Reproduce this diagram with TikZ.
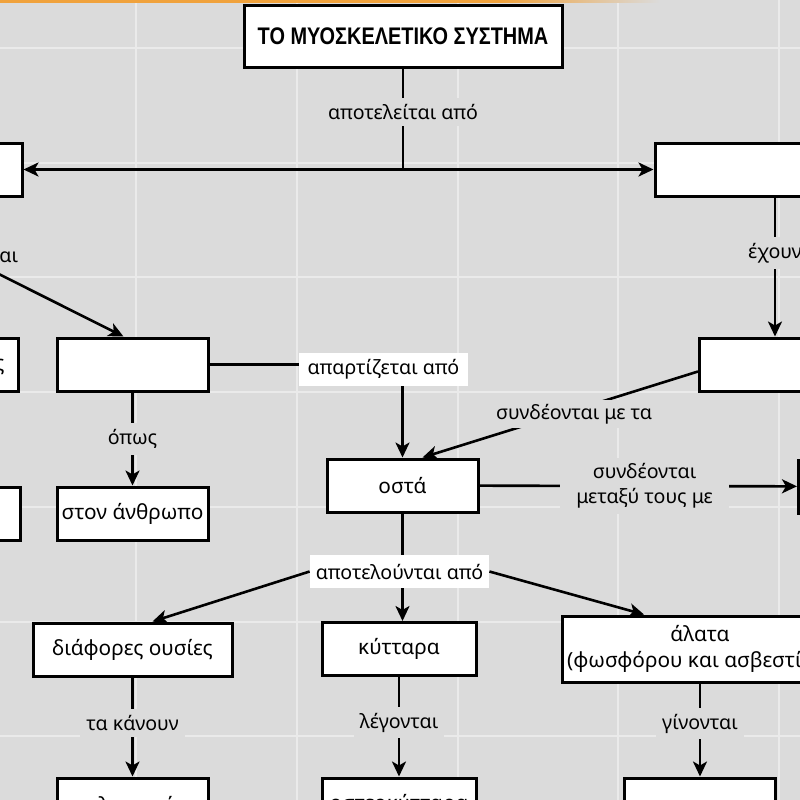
\documentclass[tikz,border=0pt]{standalone}
\usepackage{fontspec}
\usepackage{graphicx}
\setmainfont{Noto Sans}
\newfontfamily\titlefont{Liberation Sans}
\usetikzlibrary{arrows.meta,positioning,calc}

\definecolor{bggray}{HTML}{DBDBDB}
\definecolor{gridgray}{HTML}{EAEAEA}
\definecolor{topline}{HTML}{F0A23C}

\begin{document}
\begin{tikzpicture}[x=0.5pt,y=-0.5pt,
  >={Stealth[length=7.5pt,width=7pt,inset=2pt]},
  box/.style={draw,line width=1.5pt,fill=white,minimum width=75.5pt,minimum height=26.5pt,
    inner sep=0pt,align=center,font=\fontsize{10.4}{13}\selectfont},
  lbl/.style={fill=bggray,inner sep=3pt,align=center,font=\fontsize{9.8}{12.5}\selectfont},
  wlbl/.style={fill=white,inner sep=0pt,align=center,font=\fontsize{9.8}{12.5}\selectfont},
  conn/.style={line width=1.3pt}]

  \clip (0,0) rectangle (800,800);
  \fill[bggray] (0,0) rectangle (800,800);
  \foreach \gx in {136,297,458,618,779}
    \draw[gridgray,line width=1pt] (\gx,0) -- (\gx,800);
  \foreach \gy in {48,163,277,392,507,622,736}
    \draw[gridgray,line width=1pt] (0,\gy) -- (800,\gy);
  \fill[topline] (0,0) rectangle (500,2.5);
  \shade[left color=topline,right color=bggray] (500,0) rectangle (660,2.5);

  % top level
  \node[box,minimum width=159pt,minimum height=31pt,font=\fontsize{12}{14}\titlefont\bfseries]
    (title) at (403,36) {\scalebox{0.83}[1]{ΤΟ ΜΥΟΣΚΕΛΕΤΙΚΟ ΣΥΣΤΗΜΑ}};
  \node[box,minimum width=176pt] (skel) at (-154,169.5) {};
  \node[box,minimum width=120pt] (muscle) at (775,169.5) {};
  \coordinate (split) at (title.south |- skel);
  \draw[conn] (title) -- (split);
  \draw[conn,->] (split) -- (skel);
  \draw[conn,->] (split) -- (muscle);
  \node[lbl] (lblMain) at (403,112) {αποτελείται από};

  % left branch
  \node[box,anchor=east] (exo) at (20,364.5) {εξωσκελετός};
  \node[box] (insect) at (-55.5,513.5) {};
  \node[box] (endo) at (132.5,364.5) {};
  \draw[conn,->] (skel.south) -- node[lbl,pos=0.43] {διακρίνεται} ([xshift=-4.5pt]endo.north);
  \node[box] (human) at (132.5,513.5) {στον άνθρωπο};
  \draw[conn,->] (endo) -- node[lbl] {όπως} (human);

  % bones
  \node[box] (osta) at (402.5,485.5) {οστά};
  \node[wlbl,minimum width=84.5pt,minimum height=16.5pt] (lblBuilt) at (383.5,369.5) {απαρτίζεται από};
  \draw[conn] (endo) -- (endo -| lblBuilt.west);
  \draw[conn,->] (lblBuilt.south -| osta) -- (osta);

  % right branch
  \node[box] (tendon) at (775,364.5) {};
  \draw[conn,->] (muscle) -- node[lbl,pos=0.4] {έχουν} (tendon);
  \draw[conn,->] ([yshift=-3.5pt]tendon.west) -- node[lbl,pos=0.45,inner sep=2pt,yshift=-2pt] {συνδέονται με τα} ([xshift=10pt]osta.north);
  \node[box] (joint) at (874,486.5) {};
  \draw[conn,->] (osta) -- node[lbl,pos=0.52,inner xsep=8pt] {συνδέονται\\μεταξύ τους με} (joint);

  % what bones are made of
  \node[wlbl,minimum width=89.5pt,minimum height=16.5pt] (lblMade) at (399.5,571.5) {αποτελούνται από};
  \draw[conn] (osta) -- (osta |- lblMade.north);
  \node[box,minimum width=99.5pt] (subst) at (132.5,649.5) {διάφορες ουσίες};
  \node[box,minimum width=77pt] (cells) at (399,649) {κύτταρα};
  \node[box,minimum width=138pt,minimum height=33pt] (salts) at (700,649) {άλατα\\(φωσφόρου και ασβεστίου)};
  \draw[conn,->] (lblMade.west) -- ([xshift=10pt]subst.north);
  \draw[conn,->] (lblMade.south -| osta) -- (cells.north -| osta);
  \draw[conn,->] (lblMade.east) -- ([xshift=-28pt]salts.north);

  % bottom row
  \node[box] (elastic) at (132.5,804.5) {ελαστικά};
  \node[box,minimum width=77pt] (osteocytes) at (399,804.5) {οστεοκύτταρα};
  \node[box] (hard) at (700,804.5) {};
  \draw[conn,->] (subst) -- node[lbl,pos=0.46] {τα κάνουν} (elastic);
  \draw[conn,->] (cells) -- node[lbl,pos=0.46] {λέγονται} (osteocytes);
  \draw[conn,->] (salts) -- node[lbl,pos=0.43] {γίνονται} (hard);
\end{tikzpicture}
\end{document}
